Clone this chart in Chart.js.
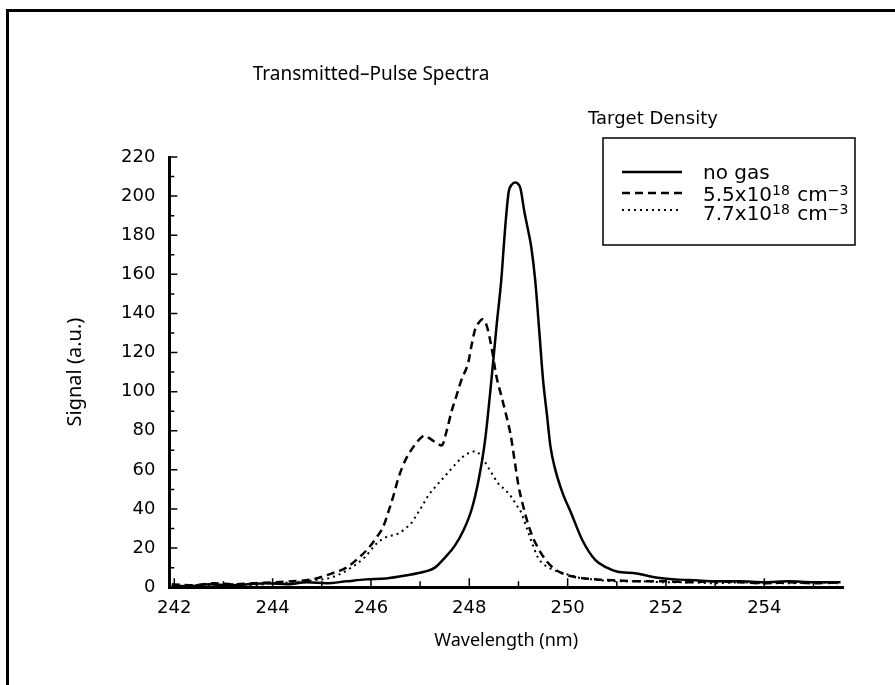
<!DOCTYPE html>
<html lang="en">
<head>
    <meta charset="UTF-8">
    <title>Transmitted-Pulse Spectra</title>
    <script src="https://cdn.jsdelivr.net/npm/chart.js"></script>
    <style>
        body { margin: 0; background: #fff; }
        #frame { position: absolute; left: 6px; top: 9px; width: 889px; height: 676px; box-sizing: border-box;
                 border-left: 3px solid #000; border-top: 3px solid #000; }
        #wrap { position: absolute; left: 0; top: 0; width: 895px; height: 685px; }
    </style>
</head>
<body>
    <div id="frame"></div>
    <div id="wrap"><canvas id="spectra" width="895" height="685"></canvas></div>

    <script>
        // text
        const chartTitle = 'Transmitted\u2013Pulse Spectra';
        const xTitle = 'Wavelength (nm)';
        const yTitle = 'Signal (a.u.)';
        const legendTitle = 'Target Density';
        // each legend row: [text, superscript?]
        const legendParts = [
            [['no gas', false]],
            [['5.5x10', false], ['18', true], [' cm', false], ['\u22123', true]],
            [['7.7x10', false], ['18', true], [' cm', false], ['\u22123', true]]
        ];

        // axes
        const xMin = 241.9, xMax = 255.6;
        const xTickValues = [242, 244, 246, 248, 250, 252, 254];
        const xMinorValues = [243, 245, 247, 249, 251, 253, 255];
        const yTickValues = [0, 20, 40, 60, 80, 100, 120, 140, 160, 180, 200, 220];
        const yMinorValues = [10, 30, 50, 70, 90, 110, 130, 150, 170, 190, 210];

        // no gas (solid)
        const noGasX = [241.95, 242.3, 242.7, 243.1, 243.5, 243.9, 244.3, 244.7, 245.1, 245.5,
            245.9, 246.3, 246.7, 247.1, 247.3, 247.5, 247.7, 247.88, 248.05, 248.19,
            248.32, 248.45, 248.56, 248.65, 248.7, 248.75, 248.8, 248.87, 248.94, 249.0,
            249.04, 249.12, 249.2, 249.26, 249.34, 249.42, 249.5, 249.58, 249.65, 249.75,
            249.9, 250.07, 250.3, 250.56, 250.8, 251.0, 251.4, 251.8, 252.2, 252.6,
            253.0, 253.5, 254.0, 254.5, 255.0, 255.55];
        const noGasY = [1, 0.5, 1.5, 1, 1.5, 2, 1.5, 2.5, 2, 3,
            4, 4.5, 6, 8, 10, 15, 21, 29, 40, 55,
            75, 106, 135, 157, 174, 190, 202, 206, 207, 206,
            204, 192, 182, 174, 157, 132, 106, 88, 72, 60,
            48, 38, 24, 14, 10, 8, 7, 5, 4, 3.5,
            3, 3, 2.5, 3, 2.5, 2.5];

        // 5.5x10^18 cm^-3 (dashed)
        const gas55X = [241.95, 242.4, 242.8, 243.2, 243.6, 244.0, 244.4, 244.8, 245.2, 245.5,
            245.75, 245.95, 246.1, 246.25, 246.36, 246.46, 246.56, 246.7, 246.87, 247.0,
            247.09, 247.2, 247.32, 247.44, 247.54, 247.64, 247.74, 247.84, 247.98, 248.04,
            248.12, 248.2, 248.27, 248.35, 248.45, 248.55, 248.65, 248.75, 248.84, 248.92,
            249.0, 249.1, 249.2, 249.3, 249.4, 249.55, 249.7, 249.9, 250.2, 250.6,
            251.0, 251.5, 252.0, 252.5, 253.0, 253.5, 254.0, 254.5, 255.0, 255.55];
        const gas55Y = [1.5, 1, 2, 1.5, 2, 2.5, 3, 4, 7, 10,
            15, 20, 25, 31, 39, 47, 56, 65, 72, 76,
            77.5, 76, 74, 72.5, 80, 90, 98, 106, 115, 123,
            132, 135.5, 137, 134, 123, 108, 98, 88, 78, 65,
            52, 41, 32, 25, 20, 14, 10, 7, 5, 4,
            3.5, 3, 3, 2.5, 3, 2.5, 2, 2.5, 2, 2.5];

        // 7.7x10^18 cm^-3 (dotted)
        const gas77X = [241.95, 242.4, 242.8, 243.2, 243.6, 244.0, 244.4, 244.8, 245.2, 245.6,
            245.9, 246.1, 246.3, 246.56, 246.7, 246.83, 246.93, 247.03, 247.17, 247.3,
            247.44, 247.6, 247.74, 247.86, 247.98, 248.13, 248.29, 248.45, 248.59, 248.72,
            248.86, 248.96, 249.06, 249.13, 249.2, 249.3, 249.4, 249.55, 249.75, 250.0,
            250.2, 250.5, 251.0, 251.5, 252.0, 252.5, 253.0, 253.5, 254.0, 254.5,
            255.0, 255.55];
        const gas77Y = [0.5, 1, 0.5, 1.5, 1, 2, 2.5, 3.5, 5, 10,
            16, 22, 25.5, 27.5, 30, 33, 37, 41, 47, 51,
            55, 59.5, 63.5, 66.5, 68.5, 69.5, 65, 58.5, 53, 50,
            46, 42, 38, 33, 28, 21, 15, 11, 8.5, 6.5,
            5, 4, 3, 3, 2.5, 2.5, 2, 2.5, 2, 2,
            2.5, 2];

        function toPoints(xs, ys) {
            const n = Math.min(xs.length, ys.length);
            const pts = [];
            for (let i = 0; i < n; i++) pts.push({ x: xs[i], y: ys[i] });
            return pts;
        }

        // tick marks pointing into the plot
        const innerTicks = {
            id: 'innerTicks',
            afterDatasetsDraw(chart) {
                const { ctx, scales: { x, y } } = chart;
                ctx.save();
                ctx.strokeStyle = '#000';
                ctx.lineWidth = 1.5;
                ctx.beginPath();
                const xMark = (v, len) => {
                    const px = x.getPixelForValue(v);
                    ctx.moveTo(px, y.bottom); ctx.lineTo(px, y.bottom - len);
                };
                const yMark = (v, len) => {
                    const py = y.getPixelForValue(v);
                    ctx.moveTo(x.left, py); ctx.lineTo(x.left + len, py);
                };
                xTickValues.forEach(v => xMark(v, 9));
                xMinorValues.filter(v => v <= xMax).forEach(v => xMark(v, 6));
                yTickValues.forEach(v => yMark(v, 8));
                yMinorValues.forEach(v => yMark(v, 5));
                ctx.stroke();
                ctx.restore();
            }
        };

        // title and the boxed legend
        const headings = {
            id: 'headings',
            afterDraw(chart) {
                const ctx = chart.ctx;
                ctx.save();
                ctx.fillStyle = '#000';
                ctx.strokeStyle = '#000';
                ctx.textBaseline = 'alphabetic';

                ctx.font = '19px "Noto Sans"';
                ctx.textAlign = 'center';
                ctx.fillText(chartTitle, 371, 80);

                ctx.textAlign = 'left';
                ctx.font = '18px "DejaVu Sans"';
                ctx.fillText(legendTitle, 588, 124);

                ctx.lineWidth = 1.5;
                ctx.strokeRect(603, 138, 252, 107);

                const lineY = [172, 193, 210];
                const textY = [179, 201, 220];
                chart.data.datasets.forEach((ds, i) => {
                    ctx.save();
                    ctx.lineWidth = ds.borderWidth;
                    ctx.setLineDash(ds.borderDash || []);
                    ctx.beginPath();
                    ctx.moveTo(622, lineY[i]);
                    ctx.lineTo(682, lineY[i]);
                    ctx.stroke();
                    ctx.restore();

                    let tx = 703;
                    legendParts[i].forEach(([t, sup]) => {
                        ctx.font = sup ? '14px "DejaVu Sans"' : '20px "DejaVu Sans"';
                        ctx.fillText(t, tx, sup ? textY[i] - 6 : textY[i]);
                        tx += ctx.measureText(t).width + (sup ? 1 : 0);
                    });
                });
                ctx.restore();
            }
        };

        const tickFont = { family: 'DejaVu Sans', size: 18 };

        new Chart(document.getElementById('spectra'), {
            type: 'line',
            data: {
                datasets: [
                    {
                        label: 'no gas',
                        data: toPoints(noGasX, noGasY),
                        borderColor: '#000',
                        borderWidth: 2.5,
                        pointRadius: 0,
                        cubicInterpolationMode: 'monotone'
                    },
                    {
                        label: '5.5x10^18 cm^-3',
                        data: toPoints(gas55X, gas55Y),
                        borderColor: '#000',
                        borderWidth: 2.5,
                        borderDash: [8, 5],
                        pointRadius: 0,
                        cubicInterpolationMode: 'monotone'
                    },
                    {
                        label: '7.7x10^18 cm^-3',
                        data: toPoints(gas77X, gas77Y),
                        borderColor: '#000',
                        borderWidth: 2,
                        borderDash: [2, 4],
                        pointRadius: 0,
                        cubicInterpolationMode: 'monotone'
                    }
                ]
            },
            options: {
                responsive: false,
                animation: false,
                layout: { padding: { top: 157, right: 52, bottom: 33.6, left: 63 } },
                plugins: {
                    legend: { display: false },
                    tooltip: { enabled: false }
                },
                scales: {
                    x: {
                        type: 'linear',
                        min: xMin,
                        max: xMax,
                        afterBuildTicks: s => { s.ticks = xTickValues.map(v => ({ value: v })); },
                        grid: { display: false, drawTicks: false },
                        border: { color: '#000', width: 3 },
                        ticks: { color: '#000', font: tickFont, padding: 10, maxRotation: 0, autoSkip: false },
                        title: { display: true, text: xTitle, color: '#000', font: { family: 'Noto Sans', size: 18 }, padding: { top: 1, bottom: 0 } }
                    },
                    y: {
                        min: 0,
                        max: 220,
                        afterBuildTicks: s => { s.ticks = yTickValues.map(v => ({ value: v })); },
                        grid: { display: false, drawTicks: false },
                        border: { color: '#000', width: 3 },
                        ticks: { color: '#000', font: tickFont, padding: 14, autoSkip: false },
                        title: { display: true, text: yTitle, color: '#000', font: { family: 'Noto Sans', size: 20 }, padding: { top: 0, bottom: 20 } }
                    }
                }
            },
            plugins: [innerTicks, headings]
        });
    </script>
</body>
</html>
